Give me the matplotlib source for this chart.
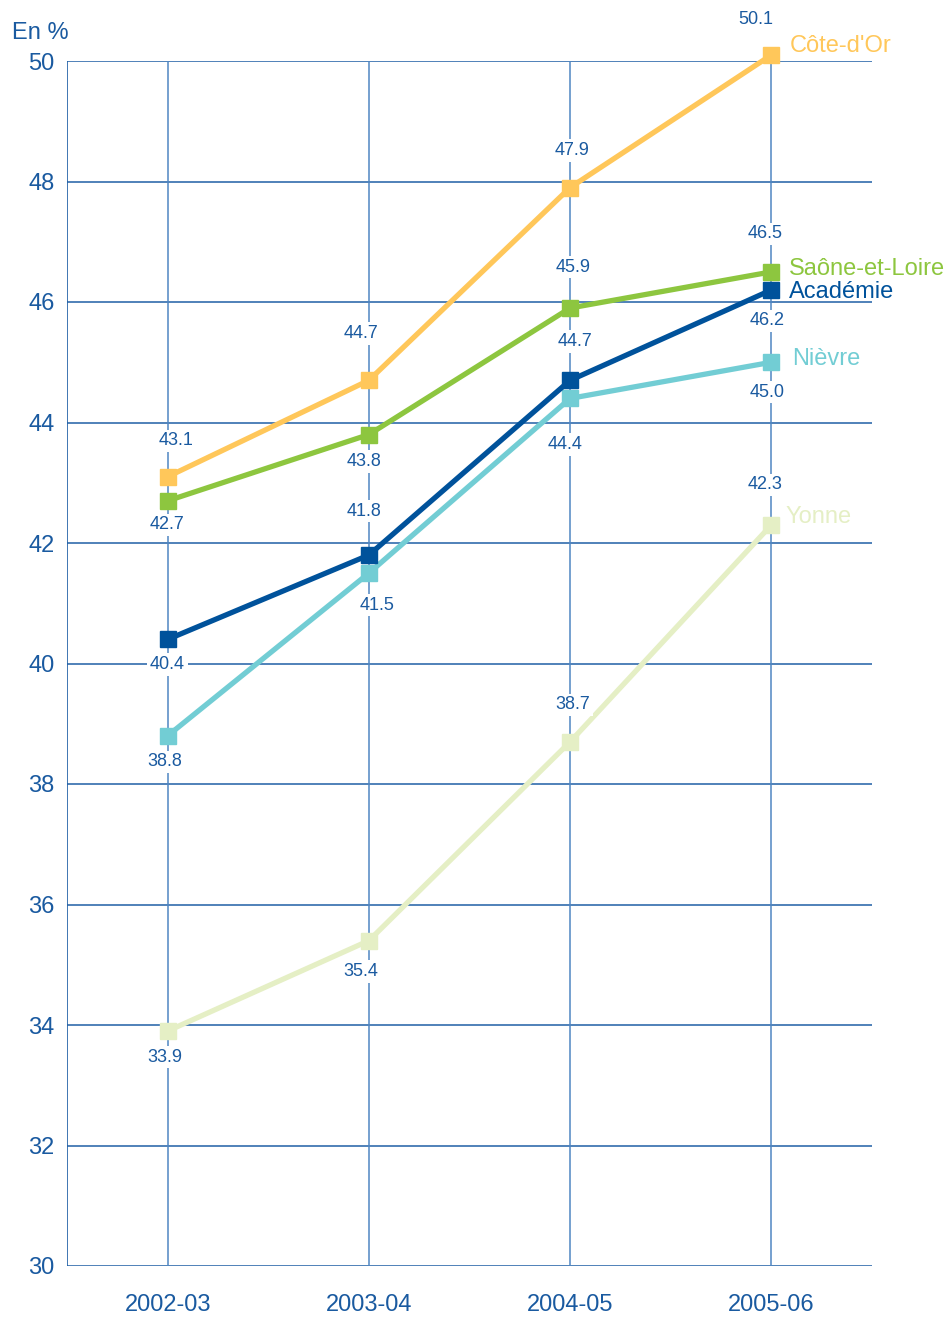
import matplotlib
matplotlib.use("Agg")
import matplotlib.pyplot as plt
import numpy as np

plt.rcParams['font.family'] = ['Liberation Sans', 'DejaVu Sans']

# Data
years = ['2002-03', '2003-04', '2004-05', '2005-06']
cote_dor = [43.1, 44.7, 47.9, 50.1]
saone_et_loire = [42.7, 43.8, 45.9, 46.5]
academie = [40.4, 41.8, 44.7, 46.2]
nievre = [38.8, 41.5, 44.4, 45.0]
yonne = [33.9, 35.4, 38.7, 42.3]

TEXT = '#1a5aa0'

# name, values, colour, value-label offsets (pixels), series-label offset (pixels)
series = [
    ('Yonne', yonne, '#e5efc5',
     [(-3, -26), (-8, -31), (3, 37), (-6, 40)], (14, 8)),
    ('Nièvre', nievre, '#72cdd4',
     [(-3, -26), (8, -32), (-5, -46), (-4, -30)], (21, 3)),
    ('Académie', academie, '#00529b',
     [(0, -25), (-5, 44), (5, 39), (-4, -31)], (18, -2)),
    ('Saône-et-Loire', saone_et_loire, '#8dc63f',
     [(-1, -24), (-5, -27), (3, 41), (-6, 38)], (18, 3)),
    ("Côte-d'Or", cote_dor, '#ffc75a',
     [(8, 36), (-8, 47), (2, 37), (-16, 35)], (18, 9)),
]

fig = plt.figure(figsize=(9.51, 13.17), dpi=100)
ax = fig.add_axes([67 / 951, 1 - 1266 / 1317, 805 / 951, 1205 / 1317])

x = np.arange(len(years))

# grid
for yv in np.arange(30, 51, 2):
    ax.axhline(yv, color='#1f5fa6', lw=1.1, zorder=1)
for xv in x:
    ax.axvline(xv, color='#4f86c2', lw=1.1, zorder=1)

for name, vals, col, offs, loff in series:
    ax.plot(x, vals, color=col, lw=3.8, marker='s', ms=12,
            solid_capstyle='butt', zorder=3, clip_on=False)
    for xi, v, (dx, dy) in zip(x, vals, offs):
        ax.annotate(f'{v:.1f}', (xi, v), xytext=(dx, dy), textcoords='offset pixels',
                    ha='center', va='center', fontsize=13, color=TEXT, zorder=5,
                    annotation_clip=False,
                    bbox=dict(boxstyle='square,pad=0.15', fc='white', ec='none'))
    ax.annotate(name, (x[-1], vals[-1]), xytext=loff, textcoords='offset pixels',
                ha='left', va='center', fontsize=17, color=col, zorder=5,
                annotation_clip=False)

ax.set_xlim(-0.5, 3.5)
ax.set_ylim(30, 50)
ax.set_yticks(np.arange(30, 51, 2))
ax.set_yticklabels([str(v) for v in range(30, 51, 2)], fontsize=17, color=TEXT)
ax.set_xticks(x)
ax.set_xticklabels(years, fontsize=17, color=TEXT)
ax.tick_params(axis='both', length=0)
ax.tick_params(axis='y', pad=9)
ax.tick_params(axis='x', pad=20)
for s in ax.spines.values():
    s.set_visible(False)
ax.axvline(-0.5, color='#1f5fa6', lw=1.2, zorder=1)

fig.text(12 / 951, 1 - 33 / 1317, 'En %', fontsize=17, color=TEXT, ha='left', va='center')

fig.savefig('out.png', dpi=100, facecolor='white')
